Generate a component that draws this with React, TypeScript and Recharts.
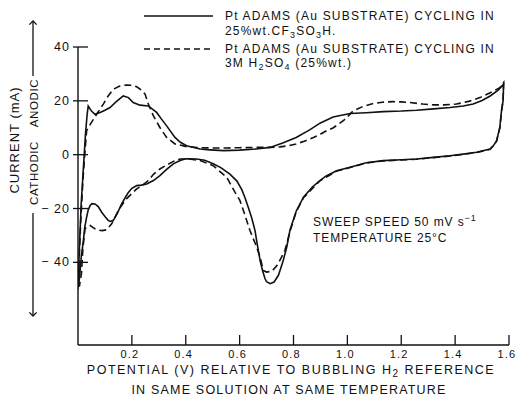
import React from "react";
import { LineChart, Line, XAxis, YAxis } from "recharts";

// Pt Adams (Au substrate) in 25%wt CF3SO3H -- anodic sweep then cathodic return
const triflicV = [
  0.0, 0.005, 0.012, 0.02, 0.028, 0.034, 0.038, 0.05, 0.063, 0.082, 0.1, 0.119, 0.14, 0.168, 0.187, 0.205,
  0.23, 0.261, 0.275, 0.292, 0.31, 0.329, 0.36, 0.38, 0.403, 0.453, 0.49, 0.54, 0.6, 0.66, 0.713, 0.76,
  0.81, 0.86, 0.9, 0.947, 1.01, 1.07, 1.133, 1.2, 1.257, 1.32, 1.381, 1.43, 1.467, 1.5, 1.53, 1.56, 1.58,
  1.578, 1.572, 1.566, 1.554, 1.54, 1.53, 1.48, 1.43, 1.381, 1.32, 1.257, 1.2, 1.133, 1.07, 1.01, 0.96,
  0.92, 0.898, 0.87, 0.837, 0.81, 0.787, 0.775, 0.76, 0.744, 0.728, 0.713, 0.7, 0.694, 0.685, 0.676,
  0.665, 0.657, 0.645, 0.632, 0.62, 0.608, 0.59, 0.564, 0.53, 0.502, 0.47, 0.44, 0.4, 0.379, 0.354, 0.33,
  0.304, 0.28, 0.255, 0.235, 0.218, 0.2, 0.187, 0.175, 0.162, 0.145, 0.131, 0.12, 0.112, 0.1, 0.088,
  0.075, 0.063, 0.052, 0.045, 0.038, 0.032, 0.025, 0.02, 0.012, 0.007, 0.003,
];
const triflicI = [
  -49, -35, -18, -5, 8, 15, 18.1, 16.2, 15, 15.7, 16.5, 17.5, 19.5, 21.8, 21.2, 19.4,
  18.4, 18.1, 17, 15.7, 13.2, 10.7, 6.4, 4.6, 3.3, 2.1, 1.8, 1.5, 1.7, 2.1, 2.7, 4.3,
  6.4, 9.2, 11.8, 14.0, 15.3, 15.6, 16.0, 16.2, 16.5, 17.0, 17.5, 18.1, 18.8, 20.1, 21.8, 24, 26.2,
  20, 16.3, 10.1, 5.2, 3, 2.1, 0.9, 0.2, -0.4, -1, -1.6, -1.9, -2.2, -3, -4.7, -6,
  -8, -9.6, -12, -15.8, -21, -28, -34.3, -40, -44.8, -47.3, -47.9, -47.2, -46, -43, -39.3,
  -33, -28.1, -23.5, -19.5, -16, -13, -9.8, -7.2, -4.8, -3.4, -2.1, -1.6, -1.5, -2.2, -3.4, -5.4,
  -7.8, -9.6, -10.9, -11.3, -11.5, -12.5, -14, -16, -18.3, -22, -24.4, -24.8, -24.4, -23, -21.4,
  -19.3, -18.3, -18.2, -18.9, -20.5, -23.2, -27, -31.9, -38, -44.2, -48,
];

// Pt Adams (Au substrate) in 3M H2SO4 (25%wt)
const sulfuricV = [
  0.0, 0.004, 0.01, 0.018, 0.025, 0.032, 0.05, 0.069, 0.094, 0.112, 0.131, 0.155, 0.18, 0.2, 0.218, 0.235,
  0.249, 0.261, 0.28, 0.304, 0.329, 0.36, 0.403, 0.45, 0.49, 0.55, 0.6, 0.66, 0.713, 0.75, 0.78, 0.81,
  0.84, 0.874, 0.898, 0.923, 0.948, 0.985, 1.022, 1.06, 1.096, 1.13, 1.17, 1.2, 1.232, 1.28, 1.319, 1.36,
  1.405, 1.45, 1.492, 1.53, 1.566, 1.58,
  1.578, 1.572, 1.566, 1.554, 1.53, 1.48, 1.381, 1.257, 1.133, 1.07, 1.01, 0.96, 0.898, 0.837, 0.81,
  0.787, 0.768, 0.756, 0.74, 0.72, 0.7, 0.688, 0.676, 0.658, 0.638, 0.614, 0.601, 0.583, 0.552, 0.502,
  0.453, 0.41, 0.379, 0.354, 0.33, 0.304, 0.28, 0.261, 0.24, 0.218, 0.2, 0.18, 0.165, 0.15, 0.125, 0.106,
  0.09, 0.069, 0.055, 0.045, 0.035, 0.026, 0.018, 0.013, 0.005,
];
const sulfuricI = [
  -50, -40, -25, -10, 0, 8.9, 12, 15, 18.8, 21.8, 24.3, 25.5, 25.9, 25.8, 25.2, 24,
  22.5, 18.8, 14.4, 10.1, 6.4, 4, 3, 2.6, 2.5, 2.5, 2.6, 2.7, 2.7, 2.9, 3.3, 4,
  5, 6.4, 7.5, 8.9, 10, 12.6, 16.3, 18, 19, 19.5, 19.7, 19.6, 19.4, 18.8, 18.5, 18.5,
  18.8, 19.8, 21.2, 23, 24.9, 26.8,
  20, 16, 10, 5, 2, 0.8, -0.5, -1.7, -2.3, -3.1, -4.8, -6.1, -9.7, -16, -21.2,
  -28.5, -35.6, -38, -41, -43.3, -43.6, -43, -38, -33, -28.1, -20.7, -17, -14, -8.4, -4.1,
  -2.2, -1.6, -1.6, -2.5, -3.8, -5.3, -7.3, -9.6, -11.3, -12.7, -14.4, -16.4, -18.4, -20.7, -25.7, -27.9,
  -28.2, -27.9, -27, -26.3, -26.7, -27.5, -35, -44, -49,
];

const potentialTicks = [0.2, 0.4, 0.6, 0.8, 1.0, 1.2, 1.4, 1.6];
const currentTicks = [-40, -20, 0, 20, 40];

const triflic = triflicV.map((v, i) => ({ v, i: triflicI[i] }));
const sulfuric = sulfuricV.map((v, i) => ({ v, i: sulfuricI[i] }));

const FONT = "'Liberation Sans', Arial, sans-serif";
const INK = "#111";

const XTick = (props: any) => {
  const { x, y, payload } = props;
  return (
    <g>
      <line x1={x} y1={y} x2={x} y2={y - 10} stroke={INK} strokeWidth={1.3} />
      <text x={x - 2} y={y + 13} textAnchor="middle" fontSize={11} fontFamily={FONT} fill={INK} letterSpacing={1.2}>
        {payload.value.toFixed(1)}
      </text>
    </g>
  );
};

const YTick = (props: any) => {
  const { x, y, payload } = props;
  const v = payload.value;
  return (
    <g>
      <line x1={x - 5} y1={y} x2={x + 10} y2={y} stroke={INK} strokeWidth={1.3} />
      <text x={x - 8} y={y + 4} textAnchor="end" fontSize={12.5} fontFamily={FONT} fill={INK} letterSpacing={1}>
        {v < 0 ? `\u2212 ${Math.abs(v)}` : v}
      </text>
    </g>
  );
};

const Overlay = () => (
  <svg width={522} height={405} style={{ position: "absolute", left: 0, top: 0, pointerEvents: "none" }}>
    <defs>
      <marker id="ah" viewBox="0 0 10 10" refX="5" refY="5" markerWidth="7" markerHeight="9" orient="auto-start-reverse">
        <path d="M1 1 L5 5 L1 9" fill="none" stroke={INK} strokeWidth={1.4} />
      </marker>
    </defs>
    <g fontFamily={FONT} fill={INK} fontSize={12} letterSpacing={1.2}>
      {/* legend */}
      <line x1={144} y1={16} x2={213} y2={16} stroke={INK} strokeWidth={1.5} />
      <text x={225} y={20}>Pt ADAMS (Au SUBSTRATE) CYCLING IN</text>
      <text x={225} y={35}>
        25%wt.CF<tspan dy={3} fontSize={9}>3</tspan>
        <tspan dy={-3}>SO</tspan>
        <tspan dy={3} fontSize={9}>3</tspan>
        <tspan dy={-3}>H.</tspan>
      </text>
      <line x1={144} y1={49} x2={213} y2={49} stroke={INK} strokeWidth={1.5} strokeDasharray="6 4" />
      <text x={225} y={53}>Pt ADAMS (Au SUBSTRATE) CYCLING IN</text>
      <text x={225} y={67}>
        3M  H<tspan dy={3} fontSize={9}>2</tspan>
        <tspan dy={-3}>SO</tspan>
        <tspan dy={3} fontSize={9}>4</tspan>
        <tspan dy={-3}> (25%wt.)</tspan>
      </text>

      {/* annotation */}
      <text x={313} y={226} letterSpacing={0.9}>
        SWEEP SPEED 50 mV  s<tspan dy={-5} fontSize={9}>−1</tspan>
      </text>
      <text x={313} y={242} letterSpacing={0.9}>TEMPERATURE  25°C</text>

      {/* x axis title */}
      <text x={291} y={374} textAnchor="middle" fontSize={12.5} letterSpacing={1.5}>
        POTENTIAL (V) RELATIVE TO BUBBLING H<tspan dy={3} fontSize={10}>2</tspan>
        <tspan dy={-3}>  REFERENCE</tspan>
      </text>
      <text x={289} y={394} textAnchor="middle" fontSize={12.5} letterSpacing={1.2}>IN SAME SOLUTION AT SAME TEMPERATURE</text>

      {/* y axis title */}
      <text transform="translate(19,140) rotate(-90)" textAnchor="middle" fontSize={13} letterSpacing={1}>CURRENT (mA)</text>
      <text transform="translate(38,103) rotate(-90)" textAnchor="middle" fontSize={11.5} letterSpacing={0.6}>ANODIC</text>
      <text transform="translate(38,173) rotate(-90)" textAnchor="middle" fontSize={11.5} letterSpacing={0.6}>CATHODIC</text>
    </g>
    <line x1={33} y1={76} x2={33} y2={21} stroke={INK} strokeWidth={1.3} markerEnd="url(#ah)" />
    <line x1={33} y1={213} x2={33} y2={316} stroke={INK} strokeWidth={1.3} markerEnd="url(#ah)" />
  </svg>
);

export default function App() {
  return (
    <div style={{ position: "absolute", left: 0, top: 0, width: 522, height: 405, background: "#fff" }}>
      <LineChart width={522} height={405} margin={{ top: 47, right: 13, bottom: 30, left: 48 }}>
        <XAxis
          dataKey="v"
          type="number"
          domain={[0, 1.6]}
          ticks={potentialTicks}
          height={30}
          tickSize={0}
          tickMargin={0}
          tickLine={false}
          axisLine={{ stroke: INK, strokeWidth: 1.4 }}
          tick={(p: any) => <XTick {...p} />}
          allowDataOverflow
        />
        <YAxis
          type="number"
          domain={[-70.7, 40]}
          ticks={currentTicks}
          width={30}
          tickSize={0}
          tickMargin={0}
          tickLine={false}
          axisLine={{ stroke: INK, strokeWidth: 1.4 }}
          tick={(p: any) => <YTick {...p} />}
          allowDataOverflow
        />
        <Line
          data={triflic}
          dataKey="i"
          type="linear"
          stroke={INK}
          strokeWidth={1.6}
          dot={false}
          isAnimationActive={false}
        />
        <Line
          data={sulfuric}
          dataKey="i"
          type="linear"
          stroke={INK}
          strokeWidth={1.6}
          strokeDasharray="7 4"
          dot={false}
          isAnimationActive={false}
        />
      </LineChart>
      <Overlay />
    </div>
  );
}
